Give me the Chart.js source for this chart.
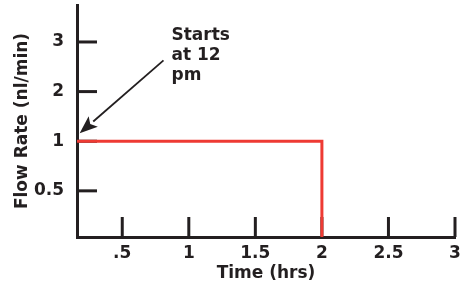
<!DOCTYPE html>
<html>
<head>
<meta charset="utf-8">
<script src="https://cdn.jsdelivr.net/npm/chart.js@4.4.1/dist/chart.umd.min.js"></script>
<style>
  html, body { margin: 0; padding: 0; background: #fff; }
  #wrap { width: 461px; height: 286px; }
</style>
</head>
<body>
<div id="wrap"><canvas id="chart"></canvas></div>
<script>
  // step: flow starts at time 0, stops at 2 hrs
  var times = [0, 2, 2];
  var flowRates = [1, 1, 0];

  // the y axis is drawn with evenly spaced levels, not to scale
  var yLevels = [0, 0.5, 1, 2, 3];
  var yTickLabels = ['0.5', '1', '2', '3'];
  var xTickValues = [0.5, 1, 1.5, 2, 2.5, 3];
  var xTickLabels = ['.5', '1', '1.5', '2', '2.5', '3'];

  var ink = '#231f20';
  var font = { family: 'DejaVu Sans', weight: 'bold', size: 17 };

  var points = times.map(function (t, i) {
    return { x: t, y: yLevels.indexOf(flowRates[i]) };
  });

  // short tick marks pointing into the plot
  var innerTicks = {
    id: 'innerTicks',
    beforeDatasetsDraw: function (chart) {
      var ctx = chart.ctx, area = chart.chartArea;
      var xs = chart.scales.x, ys = chart.scales.y;
      ctx.save();
      ctx.strokeStyle = ink;
      ctx.lineWidth = 3;
      xs.ticks.forEach(function (t) {
        var px = xs.getPixelForValue(t.value);
        ctx.beginPath();
        ctx.moveTo(px, area.bottom);
        ctx.lineTo(px, area.bottom - 20);
        ctx.stroke();
      });
      ys.ticks.forEach(function (t) {
        var py = ys.getPixelForValue(t.value);
        ctx.beginPath();
        ctx.moveTo(area.left, py);
        ctx.lineTo(area.left + 20, py);
        ctx.stroke();
      });
      ctx.restore();
    }
  };

  // "Starts at 12 pm" note with arrow
  var note = {
    id: 'note',
    afterDraw: function (chart) {
      var ctx = chart.ctx;
      var xs = chart.scales.x, ys = chart.scales.y;
      var tx = xs.getPixelForValue(0.87), ty = ys.getPixelForValue(4.29);
      ctx.save();
      ctx.fillStyle = ink;
      ctx.font = 'bold 17px "DejaVu Sans"';
      ctx.textBaseline = 'top';
      ctx.textAlign = 'left';
      ['Starts', 'at 12', 'pm'].forEach(function (s, i) {
        ctx.fillText(s, tx, ty - 1 + i * 20);
      });
      var x0 = xs.getPixelForValue(0.81), y0 = ys.getPixelForValue(3.63);
      var x1 = xs.getPixelForValue(0.18), y1 = ys.getPixelForValue(2.16);
      var ang = Math.atan2(y1 - y0, x1 - x0);
      var hl = 18, hw = 7;
      var bx = x1 - hl * Math.cos(ang), by = y1 - hl * Math.sin(ang);
      ctx.strokeStyle = ink;
      ctx.lineWidth = 1.8;
      ctx.beginPath();
      ctx.moveTo(x0, y0);
      ctx.lineTo(bx, by);
      ctx.stroke();
      ctx.beginPath();
      ctx.moveTo(x1, y1);
      ctx.lineTo(bx + hw * Math.sin(ang), by - hw * Math.cos(ang));
      ctx.lineTo(bx + 4 * Math.cos(ang), by + 4 * Math.sin(ang));
      ctx.lineTo(bx - hw * Math.sin(ang), by + hw * Math.cos(ang));
      ctx.closePath();
      ctx.fill();
      ctx.restore();
    }
  };

  var ctx = document.getElementById('chart');
  var chart = new Chart(ctx, {
    type: 'line',
    data: {
      datasets: [{
        data: points,
        borderColor: '#ee3a33',
        borderWidth: 3,
        pointRadius: 0,
        fill: false,
        tension: 0,
        clip: 0
      }]
    },
    options: {
      responsive: true,
      maintainAspectRatio: false,
      animation: false,
      layout: { padding: { top: 5, right: 6, left: 0, bottom: 0 } },
      plugins: {
        legend: { display: false },
        tooltip: { enabled: false }
      },
      scales: {
        x: {
          type: 'linear',
          min: 0.16,
          max: 3,
          z: 1,
          afterBuildTicks: function (scale) {
            scale.ticks = xTickValues.map(function (v) { return { value: v }; });
          },
          afterFit: function (scale) {
            scale.height = 49;
            scale.paddingLeft = 0;
            scale.paddingRight = 0;
          },
          grid: { display: false, drawTicks: false },
          border: { display: true, color: ink, width: 3 },
          ticks: {
            color: ink,
            font: font,
            padding: 6,
            maxRotation: 0,
            callback: function (v, i) { return xTickLabels[i]; }
          },
          title: {
            display: true,
            text: 'Time (hrs)',
            color: ink,
            font: font,
            padding: { top: 0, bottom: 2 }
          }
        },
        y: {
          type: 'linear',
          min: 0.07,
          max: 4.745,
          z: 1,
          afterBuildTicks: function (scale) {
            scale.ticks = yTickLabels.map(function (l, i) { return { value: i + 1 }; });
          },
          afterFit: function (scale) {
            scale.width = 77;
            scale.paddingTop = 0;
            scale.paddingBottom = 0;
          },
          grid: { display: false, drawTicks: false },
          border: { display: true, color: ink, width: 3 },
          ticks: {
            color: ink,
            font: font,
            padding: 13,
            callback: function (v) { return yTickLabels[v - 1]; }
          },
          title: {
            display: true,
            text: 'Flow Rate (nl/min)',
            color: ink,
            font: font,
            padding: { top: 12, bottom: 0 }
          }
        }
      }
    },
    plugins: [innerTicks, note]
  });
</script>
</body>
</html>
